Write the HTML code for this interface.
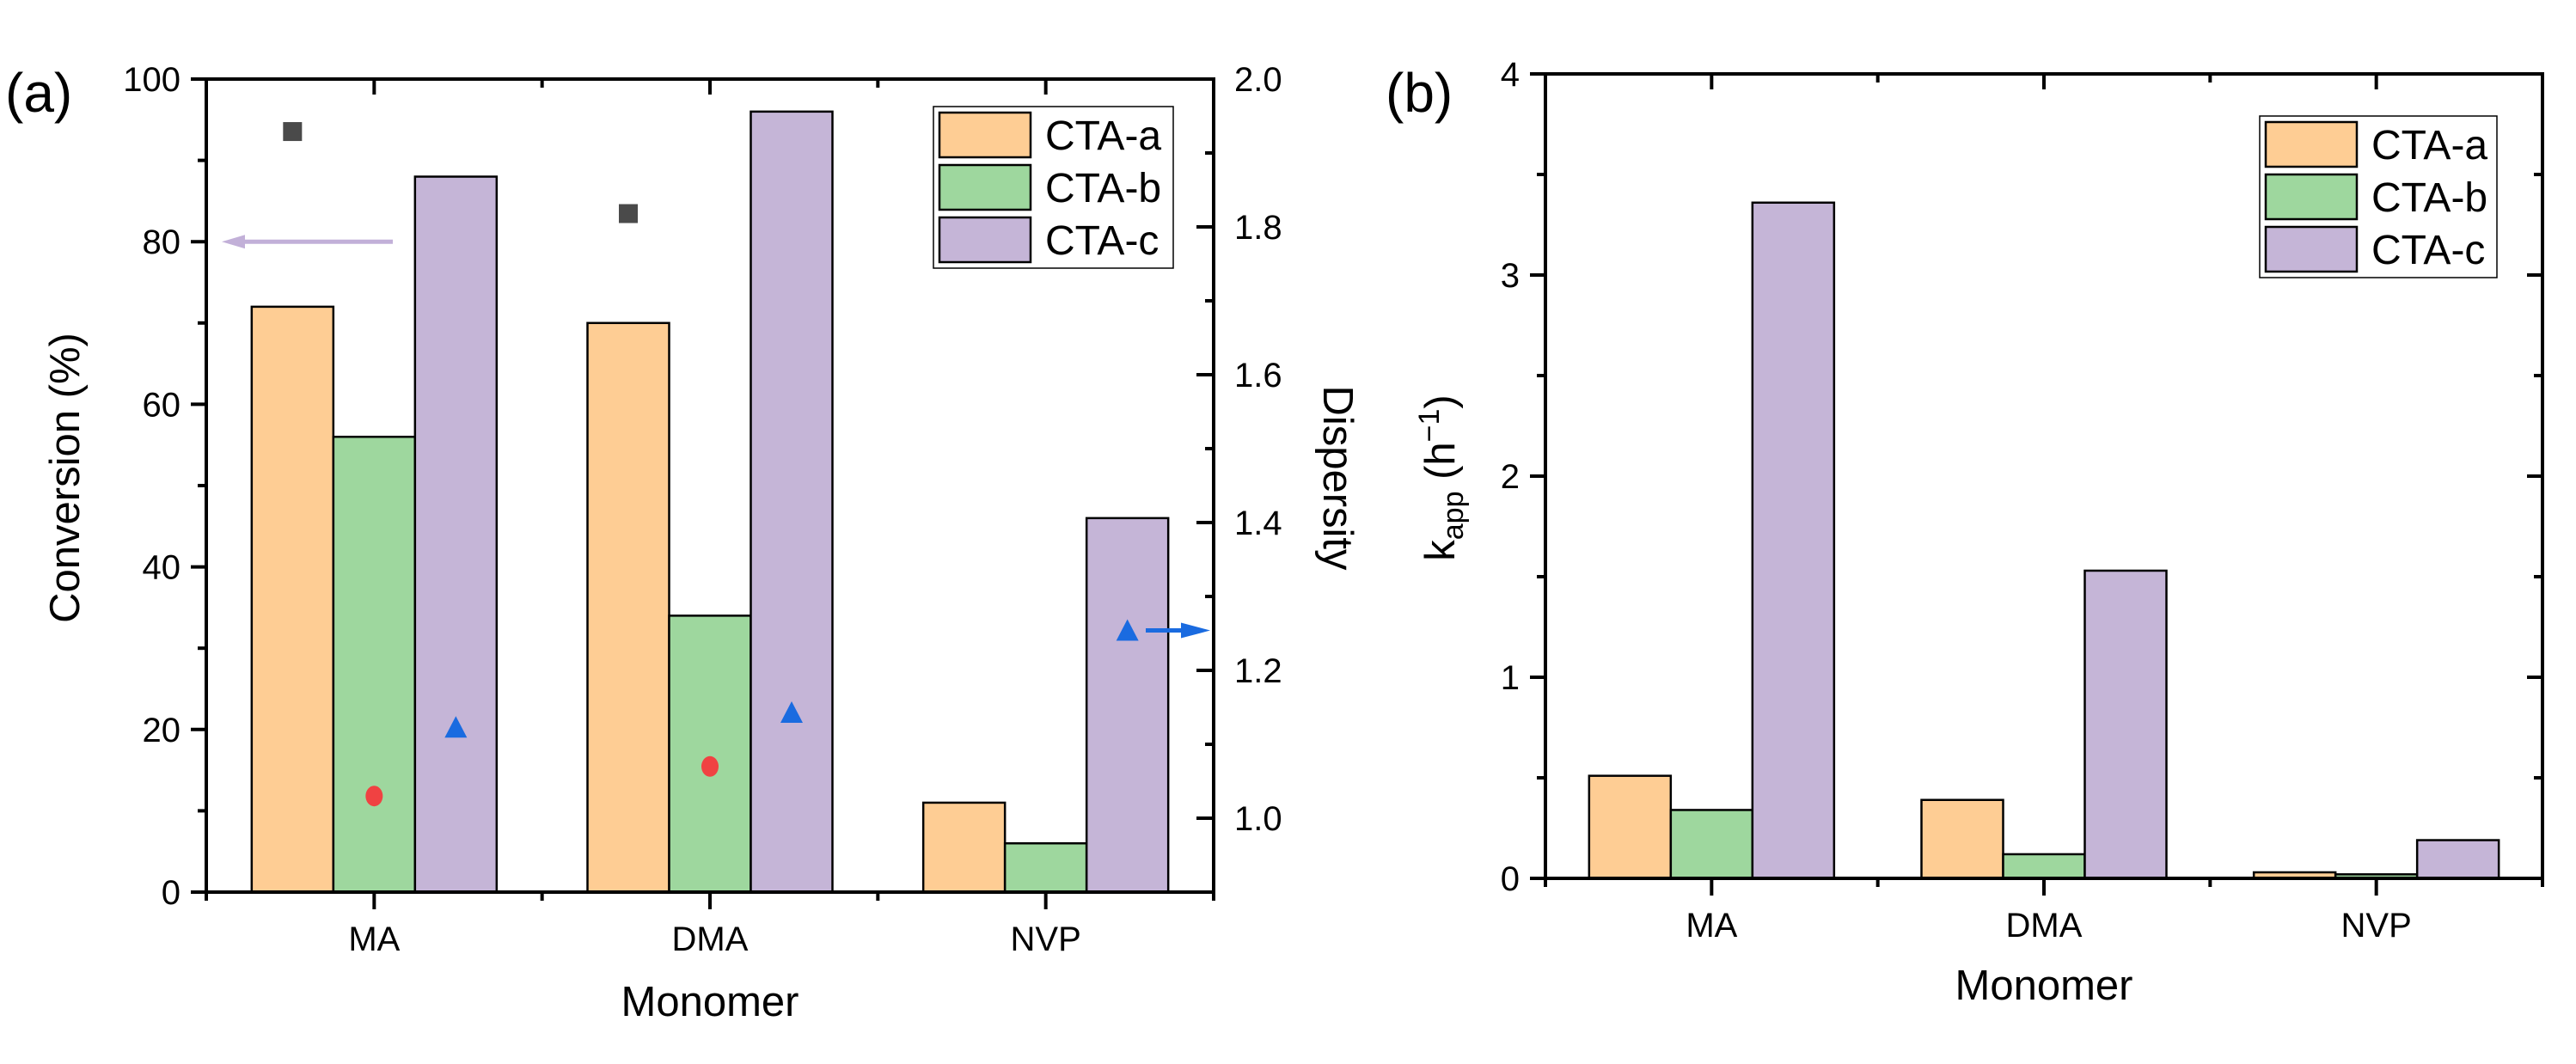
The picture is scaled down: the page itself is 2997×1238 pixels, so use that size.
<!DOCTYPE html>
<html><head><meta charset="utf-8"><style>
body{margin:0;background:#fff;}
svg{display:block;font-family:"Liberation Sans",sans-serif;}
</style></head><body>
<svg id="fig" width="2997" height="1238" viewBox="0 0 2997 1238"></svg>
<script>
const categories = ["MA","DMA","NVP"];
const seriesNames = ["CTA-a","CTA-b","CTA-c"];
const convA = [72,70,11];
const convB = [56,34,6];
const convC = [88,96,46];
const dispSquare = [1.929,1.818,null];
const dispCircle = [1.030,1.070,null];
const dispTriangle = [1.123,1.143,1.254];
const kA = [0.51,0.39,0.03];
const kB = [0.34,0.12,0.02];
const kC = [3.36,1.53,0.19];
const convTicks = [0,20,40,60,80,100];
const dispTicks = [1.0,1.2,1.4,1.6,1.8,2.0];
const kTicks = [0,1,2,3,4];

const colors = ["#FECD94","#9ED79E","#C5B5D7"];
const NS = "http://www.w3.org/2000/svg";
const svg = document.getElementById('fig');
function mk(tag, attrs, parent, text){
  const e = document.createElementNS(NS, tag);
  for (const k in attrs) e.setAttribute(k, attrs[k]);
  if (text !== undefined) e.textContent = text;
  (parent || svg).appendChild(e);
  return e;
}

function panel(opt){
  const g = mk('g', {});
  
  
  const L=opt.L,R=opt.R,T=opt.T,B=opt.B;
  const slot=(R-L)/categories.length;
  const xc=i=>L+slot*(i+0.5);
  const y=v=>B-(v-opt.ymin)/(opt.ymax-opt.ymin)*(B-T);
  const bw=95;
  opt.series.forEach((arr,s)=>{
    arr.forEach((v,i)=>{
      const x=xc(i)+(s-1.5)*bw;
      const r=mk('rect',{x:x,y:y(v),width:bw,height:B-y(v),fill:colors[s],stroke:'#000','stroke-width':2.5},g);
      
      
    });
  });
  const ax=mk('g',{stroke:'#000','stroke-width':4,fill:'none'},g);
  
  
  mk('line',{x1:L,y1:B,x2:R+2,y2:B},ax);
  mk('line',{x1:L-2,y1:T,x2:R+2,y2:T},ax);
  mk('line',{x1:L,y1:T,x2:L,y2:B+10},ax);
  mk('line',{x1:R,y1:T,x2:R,y2:B+10},ax);
  for(let i=0;i<categories.length;i++){
    mk('line',{x1:xc(i),y1:B,x2:xc(i),y2:B+20},ax);
    mk('line',{x1:xc(i),y1:T,x2:xc(i),y2:T+18},ax);
    if(i>0){mk('line',{x1:L+slot*i,y1:B,x2:L+slot*i,y2:B+10},ax);mk('line',{x1:L+slot*i,y1:T,x2:L+slot*i,y2:T+10},ax);}
    const t=mk('text',{x:xc(i),y:B+68,'font-size':40,'text-anchor':'middle'},g,categories[i]);
    
    
  }
  opt.ticks.forEach((v,k)=>{
    mk('line',{x1:L-18,y1:y(v),x2:L,y2:y(v)},ax);
    if(opt.right2===undefined) mk('line',{x1:R-18,y1:y(v),x2:R,y2:y(v)},ax);
    if(k<opt.ticks.length-1){const m=(v+opt.ticks[k+1])/2;mk('line',{x1:L-10,y1:y(m),x2:L,y2:y(m)},ax);
      if(opt.right2===undefined) mk('line',{x1:R-10,y1:y(m),x2:R,y2:y(m)},ax);}
    const t=mk('text',{x:L-30,y:y(v)+14,'font-size':40,'text-anchor':'end'},g,String(v));
    
    
  });
  const xt=mk('text',{x:(L+R)/2,y:opt.xtY,'font-size':49,'text-anchor':'middle'},g,'Monomer');
  
  
  const pl=mk('text',{x:opt.plX,y:130,'font-size':64},g,opt.label);
  
  
  const lg=mk('g',{},g);
  
  
  mk('rect',{x:opt.lgX,y:opt.lgY,width:opt.lgW,height:188,fill:'#fff',stroke:'#000','stroke-width':1.5},lg);
  seriesNames.forEach((n,s)=>{
    const e=mk('g',{},lg);
    
    
    mk('rect',{x:opt.lgX+7,y:opt.lgY+7+s*61,width:106,height:52,fill:colors[s],stroke:'#000','stroke-width':2.5},e);
    mk('text',{x:opt.lgX+130,y:opt.lgY+50+s*61,'font-size':48},e,n);
  });
  return {g,xc,y,L,R,T,B};
}

const pa=panel({name:'panel-a',L:240,R:1412,T:92,B:1038,ymin:0,ymax:100,series:[convA,convB,convC],ticks:convTicks,right2:true,xtY:1182,plX:6,label:'(a)',lgX:1086,lgY:124,lgW:279});
const yd=v=>pa.B-(v-0.9)/(2.0-0.9)*(pa.B-pa.T);
const rax=mk('g',{stroke:'#000','stroke-width':4},pa.g);


dispTicks.forEach((v,k)=>{
  mk('line',{x1:pa.R-20,y1:yd(v),x2:pa.R,y2:yd(v)},rax);
  const m=v-0.1; mk('line',{x1:pa.R-10,y1:yd(m),x2:pa.R,y2:yd(m)},rax);
  const t=mk('text',{x:pa.R+24,y:yd(v)+14,'font-size':40,stroke:'none'},pa.g,v.toFixed(1));
  
  
});
const yt=mk('text',{x:0,y:0,'font-size':49,'text-anchor':'middle',transform:'translate(1540,556) rotate(90)'},pa.g,'Dispersity');


const ytl=mk('text',{x:0,y:0,'font-size':49,'text-anchor':'middle',transform:'translate(92,556) rotate(-90)'},pa.g,'Conversion (%)');


dispSquare.forEach((v,i)=>{ if(v===null) return;
  const r=mk('rect',{x:pa.xc(i)-95-11,y:yd(v)-11,width:22,height:22,fill:'#4a4a4a'},pa.g);
  
  
});
dispCircle.forEach((v,i)=>{ if(v===null) return;
  const c=mk('ellipse',{cx:pa.xc(i),cy:yd(v),rx:10,ry:12,fill:'#F04242'},pa.g);
  
  
});
dispTriangle.forEach((v,i)=>{ if(v===null) return;
  const x=pa.xc(i)+95,yy=yd(v);
  const p=mk('polygon',{points:`${x-13},${yy+12} ${x+13},${yy+12} ${x},${yy-13}`,fill:'#1A6BE0'},pa.g);
  
  
});
const a1=mk('g',{},pa.g);


mk('line',{x1:457,y1:pa.y(80),x2:275,y2:pa.y(80),stroke:'#C2B0D8','stroke-width':5},a1);
mk('polygon',{points:`258,${pa.y(80)} 285,${pa.y(80)-8} 285,${pa.y(80)+8}`,fill:'#C2B0D8'},a1);
const a2=mk('g',{},pa.g);


const ay=yd(dispTriangle[2]);
mk('line',{x1:1333,y1:ay,x2:1380,y2:ay,stroke:'#1A6BE0','stroke-width':5},a2);
mk('polygon',{points:`1408,${ay} 1374,${ay-9} 1374,${ay+9}`,fill:'#1A6BE0'},a2);

const pb=panel({name:'panel-b',L:1798,R:2958,T:86,B:1022,ymin:0,ymax:4,series:[kA,kB,kC],ticks:kTicks,xtY:1163,plX:1612,label:'(b)',lgX:2629,lgY:135,lgW:276});
const kt=mk('text',{x:0,y:0,'font-size':49,'text-anchor':'middle',transform:'translate(1692,556) rotate(-90)'},pb.g);


mk('tspan',{},kt,'k');
mk('tspan',{'font-size':34,dy:10},kt,'app');
mk('tspan',{dy:-10},kt,' (h');
mk('tspan',{'font-size':34,dy:-18},kt,'\u22121');
mk('tspan',{dy:18},kt,')');
</script>
</body></html>
